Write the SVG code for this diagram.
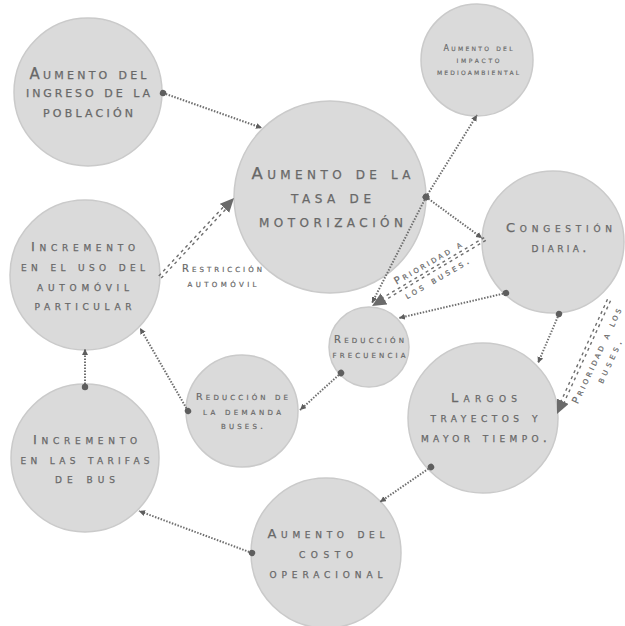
<svg xmlns="http://www.w3.org/2000/svg" width="625" height="626" viewBox="0 0 625 626">
  <style>
    .node circle { fill: #dadada; stroke: #cacaca; stroke-width: 1.5; }
    text { font-family: "DejaVu Sans", "Liberation Sans", sans-serif; font-variant: small-caps; fill: #686868; stroke: #686868; stroke-width: 0.25; text-anchor: middle; }
    .dot { fill: none; stroke: #6e6e6e; stroke-width: 2; stroke-dasharray: 1.5 1.5; marker-start: url(#knob); marker-end: url(#tip); }
    .rail { fill: none; stroke: #6e6e6e; stroke-width: 1.4; stroke-dasharray: 3 3.5; }
    .axis { fill: none; stroke: none; marker-end: url(#bigtip); }
    .lbl { font-size: 10px; stroke-width: 0.2; }
  </style>
  <defs>
    <marker id="knob" markerUnits="userSpaceOnUse" markerWidth="8" markerHeight="8" refX="4" refY="4" orient="auto">
      <circle cx="4" cy="4" r="3.2" fill="#5e5e5e"/>
    </marker>
    <marker id="tip" markerUnits="userSpaceOnUse" markerWidth="7" markerHeight="7" refX="6" refY="3" orient="auto">
      <path d="M0,0 L6,3 L0,6 z" fill="#5e5e5e"/>
    </marker>
    <marker id="bigtip" markerUnits="userSpaceOnUse" markerWidth="16" markerHeight="16" refX="14" refY="6.5" orient="auto">
      <path d="M0,0 L14,6.5 L0,13 z" fill="#6a6a6a"/>
    </marker>
  </defs>
  <rect width="625" height="626" fill="#ffffff"/>

  <g id="ingreso" class="node">
    <circle cx="88" cy="92" r="74"/>
    <text font-size="15"><tspan x="88" y="79" textLength="117">Aumento del</tspan><tspan x="88" y="97" textLength="124">ingreso de la</tspan><tspan x="88" y="117" textLength="90">población</tspan></text>
  </g>
  <g id="motorizacion" class="node">
    <circle cx="330" cy="197" r="96"/>
    <text font-size="16.5"><tspan x="331" y="179" textLength="159">Aumento de la</tspan><tspan x="331" y="203" textLength="80">tasa de</tspan><tspan x="331" y="227" textLength="144">motorización</tspan></text>
  </g>
  <g id="impacto" class="node">
    <circle cx="477" cy="60" r="56"/>
    <text font-size="8" style="stroke-width:0.15"><tspan x="478" y="51" textLength="69">Aumento del</tspan><tspan x="478" y="63" textLength="43">impacto</tspan><tspan x="478" y="75" textLength="82">medioambiental</tspan></text>
  </g>
  <g id="congestion" class="node">
    <circle cx="553" cy="242" r="71"/>
    <text font-size="13"><tspan x="559" y="232" textLength="106">Congestión</tspan><tspan x="559" y="252" textLength="55">diaria.</tspan></text>
  </g>
  <g id="automovil" class="node">
    <circle cx="85" cy="275" r="75"/>
    <text font-size="13"><tspan x="83" y="251" textLength="104">Incremento</tspan><tspan x="83" y="271" textLength="124">en el uso del</tspan><tspan x="83" y="291" textLength="92">automóvil</tspan><tspan x="83" y="310" textLength="97">particular</tspan></text>
  </g>
  <g id="frecuencia" class="node">
    <circle cx="369" cy="347" r="40"/>
    <text font-size="10" style="stroke-width:0.2"><tspan x="369" y="343" textLength="70">Reducción</tspan><tspan x="369" y="358" textLength="73">frecuencia</tspan></text>
  </g>
  <g id="demanda" class="node">
    <circle cx="242" cy="411" r="56"/>
    <text font-size="9.5" style="stroke-width:0.2"><tspan x="242" y="400" textLength="92">Reducción de</tspan><tspan x="242" y="415" textLength="78">la demanda</tspan><tspan x="242" y="429" textLength="42">buses.</tspan></text>
  </g>
  <g id="largos" class="node">
    <circle cx="483" cy="418" r="75"/>
    <text font-size="13"><tspan x="484" y="402" textLength="66">Largos</tspan><tspan x="484" y="422" textLength="107">trayectos y</tspan><tspan x="484" y="442" textLength="126">mayor tiempo.</tspan></text>
  </g>
  <g id="tarifas" class="node">
    <circle cx="85" cy="458" r="74"/>
    <text font-size="13"><tspan x="85" y="444" textLength="104">Incremento</tspan><tspan x="85" y="464" textLength="129">en las tarifas</tspan><tspan x="85" y="483" textLength="60">de bus</tspan></text>
  </g>
  <g id="costo" class="node">
    <circle cx="326" cy="553" r="75"/>
    <text font-size="13"><tspan x="326" y="538" textLength="117">Aumento del</tspan><tspan x="326" y="558" textLength="54">costo</tspan><tspan x="326" y="578" textLength="113">operacional</tspan></text>
  </g>

  <g id="connectors">
    <!-- dotted causal links: knob at the source, small head at the target -->
    <path class="dot" d="M163,93 L262,128"/>
    <path class="dot" d="M426,197 L477,115"/>
    <path class="dot" d="M426,197 L372,303"/>
    <path class="dot" d="M426,197 L482,238"/>
    <path class="dot" d="M506,293 L399,318"/>
    <path class="dot" d="M559,314 L538,363"/>
    <path class="dot" d="M341,373 L300,410"/>
    <path class="dot" d="M188,411 L140,328"/>
    <path class="dot" d="M85,387 L85,349"/>
    <path class="dot" d="M431,467 L380,502"/>
    <path class="dot" d="M252,553 L139,511"/>

    <!-- double-dashed policy links with large heads -->
    <path class="rail" d="M161.2,278.1 L227,207.9"/>
    <path class="rail" d="M158.8,275.9 L224.6,205.7"/>
    <path class="axis" d="M160,277 L234,198"/>

    <path class="rail" d="M485.8,240.4 L383.1,301.3"/>
    <path class="rail" d="M484.2,237.6 L381.5,298.5"/>
    <path class="axis" d="M485,239 L372,306"/>

    <path class="rail" d="M610.5,300.7 L563.5,403.8"/>
    <path class="rail" d="M607.5,299.3 L560.5,402.4"/>
    <path class="axis" d="M609,300 L557,414"/>

    <text class="lbl"><tspan x="222" y="272" textLength="80">Restricción</tspan><tspan x="222" y="287" textLength="69">automóvil</tspan></text>
    <text class="lbl" font-size="9.5" transform="translate(432,270) rotate(-30)"><tspan x="0" y="-5" textLength="76">Prioridad a</tspan><tspan x="0" y="13" textLength="72">los buses.</tspan></text>
    <text class="lbl" font-size="9.5" transform="translate(597,356) rotate(-65)"><tspan x="0" y="3" textLength="104">Prioridad a los</tspan><tspan x="0" y="17" textLength="46">buses.</tspan></text>
  </g>
</svg>
